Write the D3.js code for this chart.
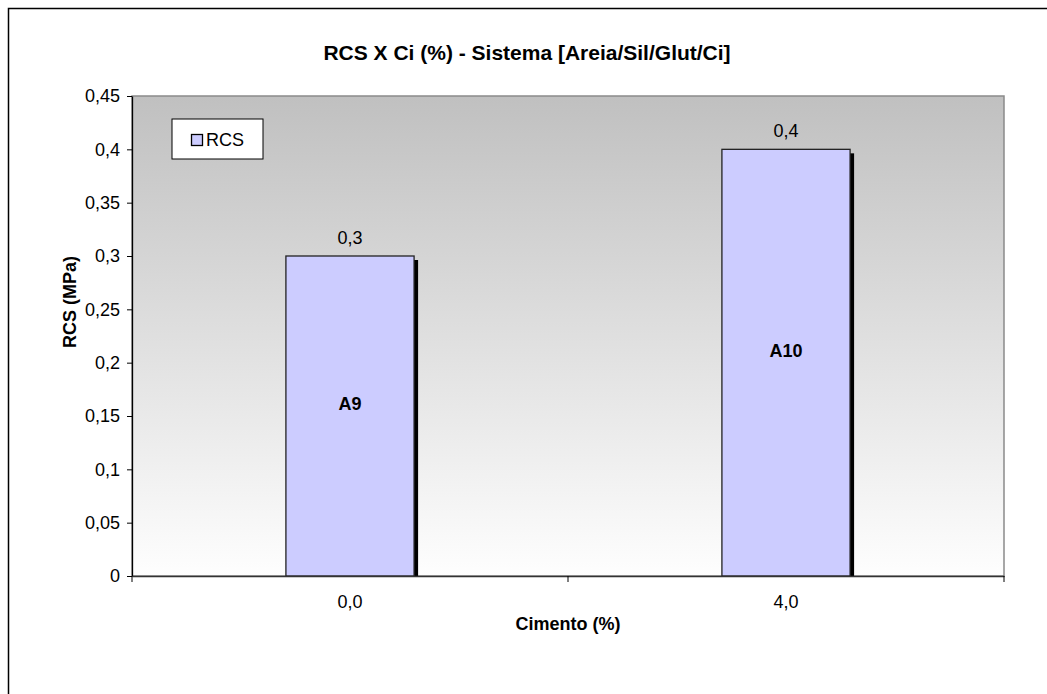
<!DOCTYPE html>
<html lang="en">
<head>
<meta charset="UTF-8">
<title>RCS X Ci</title>
<script src="https://d3js.org/d3.v7.min.js"></script>
<style>
  body { margin: 0; background: #fff; }
  svg { font-family: "Liberation Sans", Arial, sans-serif; }
</style>
</head>
<body>
<svg width="1047" height="694"></svg>
<script>
// data
var categories = ["0,0", "4,0"];
var rcsValues = [0.3, 0.4];
var barNames = ["A9", "A10"];
var yTicks = [0, 0.05, 0.1, 0.15, 0.2, 0.25, 0.3, 0.35, 0.4, 0.45];

var svg = d3.select("svg");
var fmt = function(v) { return String(+v.toFixed(2)).replace(".", ","); };
var FONT = "Liberation Sans, Arial, sans-serif";

// outer chart border
svg.append("rect")
    .attr("x", 8.5).attr("y", 8.5)
    .attr("width", 1060).attr("height", 700)
    .attr("fill", "none").attr("stroke", "#000").attr("stroke-width", 1.5);

var margin = {top: 96, left: 132, right: 1004, bottom: 576};

var x = d3.scaleBand()
    .domain(categories)
    .range([margin.left, margin.right]);

var y = d3.scaleLinear()
    .domain([0, 0.45])
    .range([margin.bottom, margin.top]);

// plot background gradient
var grad = svg.append("defs").append("linearGradient")
    .attr("id", "bg").attr("x1", 0).attr("y1", 0).attr("x2", 0).attr("y2", 1);
grad.append("stop").attr("offset", "0%").attr("stop-color", "#c0c0c0");
grad.append("stop").attr("offset", "100%").attr("stop-color", "#fefefe");

svg.append("rect")
    .attr("x", margin.left).attr("y", margin.top)
    .attr("width", margin.right - margin.left)
    .attr("height", margin.bottom - margin.top)
    .attr("fill", "url(#bg)")
    .attr("stroke", "#8a8a8a").attr("stroke-width", 1.5);

// title
svg.append("text")
    .attr("x", 527).attr("y", 60)
    .attr("text-anchor", "middle")
    .attr("font-size", 21).attr("font-weight", "bold")
    .text("RCS X Ci (%) - Sistema [Areia/Sil/Glut/Ci]");

// bars
var bw = x.bandwidth() * 0.294;
var data = categories.map(function(c, i) { return {cat: c, v: rcsValues[i], name: barNames[i]}; });

var bars = svg.selectAll(".bar").data(data).enter().append("g");

// shadow
bars.append("rect")
    .attr("x", function(d) { return x(d.cat) + x.bandwidth() / 2 - bw / 2 + 4; })
    .attr("y", function(d) { return y(d.v) + 4; })
    .attr("width", bw)
    .attr("height", function(d) { return y(0) - y(d.v) - 4; })
    .attr("fill", "#000");

bars.append("rect")
    .attr("x", function(d) { return x(d.cat) + x.bandwidth() / 2 - bw / 2; })
    .attr("y", function(d) { return y(d.v); })
    .attr("width", bw)
    .attr("height", function(d) { return y(0) - y(d.v); })
    .attr("fill", "#ccccff")
    .attr("stroke", "#222").attr("stroke-width", 1.3);

bars.append("text")
    .attr("x", function(d) { return x(d.cat) + x.bandwidth() / 2; })
    .attr("y", function(d) { return y(d.v) - 12; })
    .attr("text-anchor", "middle")
    .attr("font-size", 18)
    .text(function(d) { return fmt(d.v); });

bars.append("text")
    .attr("x", function(d) { return x(d.cat) + x.bandwidth() / 2; })
    .attr("y", function(d) { return (y(d.v) + y(0)) / 2 - 6; })
    .attr("text-anchor", "middle")
    .attr("font-size", 18).attr("font-weight", "bold")
    .text(function(d) { return d.name; });

// y axis
var yAxis = svg.append("g")
    .attr("transform", "translate(" + margin.left + ",0)")
    .call(d3.axisLeft(y).tickValues(yTicks).tickFormat(fmt).tickSize(5).tickSizeOuter(0));
yAxis.select(".domain").attr("stroke", "#000").attr("stroke-width", 1.3);
yAxis.selectAll(".tick line").attr("stroke", "#000");
yAxis.selectAll("text").attr("font-size", 18).attr("font-family", FONT).attr("fill", "#000").attr("dx", -4);

// x axis
var xAxis = svg.append("g")
    .attr("transform", "translate(0," + margin.bottom + ")")
    .call(d3.axisBottom(x).tickSize(0));
xAxis.select(".domain").attr("stroke", "#333").attr("stroke-width", 1.5);
xAxis.selectAll("text").attr("font-size", 18).attr("font-family", FONT).attr("fill", "#000")
    .attr("y", 32).attr("dy", 0);

// x tick marks on category boundaries
var bounds = categories.map(function(c) { return x(c); }).concat([margin.right]);
svg.selectAll(".xtick").data(bounds).enter().append("line")
    .attr("x1", function(d) { return d; }).attr("x2", function(d) { return d; })
    .attr("y1", margin.bottom).attr("y2", margin.bottom + 6)
    .attr("stroke", "#000");

// axis titles
svg.append("text")
    .attr("x", 568).attr("y", 630)
    .attr("text-anchor", "middle")
    .attr("font-size", 18).attr("font-weight", "bold")
    .text("Cimento (%)");

svg.append("text")
    .attr("transform", "translate(76,302) rotate(-90)")
    .attr("text-anchor", "middle")
    .attr("font-size", 18).attr("font-weight", "bold")
    .text("RCS (MPa)");

// legend
var lg = svg.append("g").attr("transform", "translate(172,119)");
lg.append("rect").attr("width", 91).attr("height", 40)
    .attr("fill", "#fff").attr("stroke", "#000").attr("stroke-width", 1);
lg.append("rect").attr("x", 19.5).attr("y", 15.5).attr("width", 11).attr("height", 11)
    .attr("fill", "#ccccff").attr("stroke", "#000").attr("stroke-width", 1.3);
lg.append("text").attr("x", 34).attr("y", 27)
    .attr("font-size", 18).text("RCS");
</script>
</body>
</html>
